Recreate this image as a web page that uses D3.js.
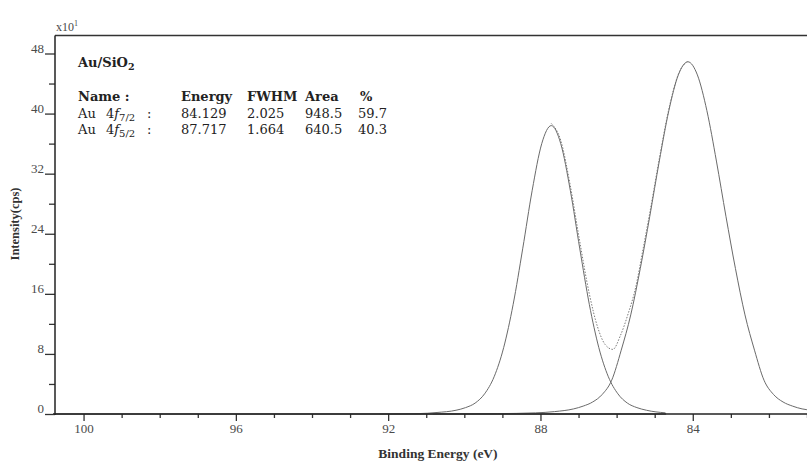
<!DOCTYPE html>
<html>
<head>
<meta charset="utf-8">
<script src="https://cdn.jsdelivr.net/npm/d3@7"></script>
<style>
  html, body { margin: 0; padding: 0; background: #fff; }
  svg { display: block; }
</style>
</head>
<body>
<svg id="chart" width="807" height="463"></svg>
<script>
// ---------------- data ----------------
const xMajorTicks = [100, 96, 92, 88, 84];
const xMinorTicks = [99, 98, 97, 95, 94, 93, 91, 90, 89, 87, 86, 85, 83, 82, 81];
const yMajorTicks = [0, 8, 16, 24, 32, 40, 48];
const yMinorTicks = [4, 12, 20, 28, 36, 44];

const tableHeaders = ["Name :", "Energy", "FWHM", "Area", "%"];
const peakLabels = ["7/2", "5/2"];
const peakEnergies = ["84.129", "87.717"];
const peakFWHM = ["2.025", "1.664"];
const peakArea = ["948.5", "640.5"];
const peakPercent = ["59.7", "40.3"];

// Au 4f7/2 component
const f72Energy = [90.829, 90.129, 89.129, 88.129, 87.629, 87.129, 86.879, 86.629, 86.379, 86.129,
  85.879, 85.629, 85.379, 85.129, 84.879, 84.629, 84.379, 84.129, 83.879, 83.629, 83.379, 83.129,
  82.879, 82.629, 82.379, 82.129, 81.879, 81.629, 81.379, 81.129, 80.879];
const f72Intensity = [0, 0.02, 0.05, 0.15, 0.32, 0.68, 1.05, 1.6, 2.6, 4.5,
  8.5, 13.2, 19.36, 26.33, 33.68, 40.38, 45.15, 46.9, 45.15, 40.38, 33.68, 26.33,
  19.36, 13.2, 8.5, 4.5, 2.6, 1.6, 1.05, 0.68, 0.5];

// Au 4f5/2 component
const f52Energy = [92.217, 91.217, 90.717, 90.217, 89.967, 89.717, 89.467, 89.217, 88.967, 88.717,
  88.467, 88.217, 87.967, 87.717, 87.467, 87.217, 86.967, 86.717, 86.467, 86.217, 85.967, 85.717,
  85.467, 85.217, 84.717];
const f52Intensity = [0, 0.05, 0.2, 0.5, 0.85, 1.45, 2.69, 4.96, 8.83, 14.6,
  21.99, 29.79, 35.99, 38.4, 35.99, 29.79, 21.99, 14.6, 8.83, 4.96, 2.69, 1.45,
  0.85, 0.5, 0.15];

// Envelope (dotted) between the two peaks
const envEnergy = [87.717, 87.467, 87.217, 86.967, 86.717, 86.5, 86.3, 86.1, 85.9, 85.7, 85.5,
  85.3, 85.129, 84.879, 84.629, 84.379, 84.129];
const envIntensity = [38.69, 36.42, 30.41, 22.91, 16.0, 11.58, 9.24, 8.6, 10.45, 13.31, 16.85,
  22.11, 26.78, 33.98, 40.58, 45.25, 46.95];

// Background
const bgEnergy = [100.75, 84.7];
const bgIntensity = [0, 0];

// ---------------- drawing ----------------
(function () {
const svg = d3.select("#chart");
const pLeft = 55, pRight = 807, pTop = 35.5, pBottom = 414;

const x = d3.scaleLinear().domain([100.75, 81]).range([pLeft, pRight]);
const y = d3.scaleLinear().domain([0, 48]).range([pBottom, 53.5]);

const serif = "'Liberation Serif', 'Times New Roman', serif";
const texFont = "'DejaVu Serif', serif";
const labelColor = "#4a4a4a";

svg.append("defs").append("clipPath").attr("id", "clip")
  .append("rect").attr("x", pLeft).attr("y", pTop).attr("width", pRight - pLeft).attr("height", pBottom - pTop + 1);

const plot = svg.append("g").attr("clip-path", "url(#clip)");

function series(ex, iy) { return ex.map((e, i) => ({ e, v: iy[i] })); }
const line = d3.line().x(d => x(d.e)).y(d => y(d.v)).curve(d3.curveMonotoneX);

plot.append("path").datum(series(bgEnergy, bgIntensity))
  .attr("d", line).attr("fill", "none").attr("stroke", "#8a8a8a").attr("stroke-width", 2);

plot.append("path").datum(series(f52Energy, f52Intensity))
  .attr("d", line).attr("fill", "none").attr("stroke", "#6a6a6a").attr("stroke-width", 1);
plot.append("path").datum(series(f72Energy, f72Intensity))
  .attr("d", line).attr("fill", "none").attr("stroke", "#6a6a6a").attr("stroke-width", 1);
plot.append("path").datum(series(envEnergy, envIntensity))
  .attr("d", line).attr("fill", "none").attr("stroke", "#7a7a7a").attr("stroke-width", 1)
  .attr("stroke-dasharray", "1.5,1.5");

// Axes frame
svg.append("line").attr("x1", pLeft).attr("x2", pRight).attr("y1", pTop).attr("y2", pTop)
  .attr("stroke", "#333").attr("stroke-width", 1.5);

// X axis
const xAxisMajor = d3.axisBottom(x).tickValues(xMajorTicks).tickSize(7).tickFormat(d3.format("d"));
const gx = svg.append("g").attr("transform", `translate(0,${pBottom})`).call(xAxisMajor);
gx.select(".domain").remove();
gx.selectAll(".tick line").attr("stroke", "#333").attr("stroke-width", 1.3);
gx.selectAll(".tick text").style("font-family", serif).style("font-size", "13px")
  .attr("fill", labelColor).attr("y", 10).attr("dy", "0.71em");

const xAxisMinor = d3.axisBottom(x).tickValues(xMinorTicks).tickSize(4).tickFormat("");
const gxm = svg.append("g").attr("transform", `translate(0,${pBottom})`).call(xAxisMinor);
gxm.select(".domain").remove();
gxm.selectAll(".tick line").attr("stroke", "#333").attr("stroke-width", 1.3);

svg.append("line").attr("x1", pLeft - 2).attr("x2", pRight).attr("y1", pBottom).attr("y2", pBottom)
  .attr("stroke", "#222").attr("stroke-width", 1.5);

// Y axis
const yAxisMajor = d3.axisLeft(y).tickValues(yMajorTicks).tickSize(10).tickFormat(d3.format("d"));
const gy = svg.append("g").attr("transform", `translate(${pLeft},0)`).call(yAxisMajor);
gy.select(".domain").remove();
gy.selectAll(".tick line").attr("stroke", "#333").attr("stroke-width", 1.3);
gy.selectAll(".tick text").style("font-family", serif).style("font-size", "13px")
  .attr("fill", labelColor).attr("x", -11).attr("dy", "-0.1em");

const yAxisMinor = d3.axisLeft(y).tickValues(yMinorTicks).tickSize(6).tickFormat("");
const gym = svg.append("g").attr("transform", `translate(${pLeft},0)`).call(yAxisMinor);
gym.select(".domain").remove();
gym.selectAll(".tick line").attr("stroke", "#333").attr("stroke-width", 1.3);

svg.append("line").attr("x1", pLeft).attr("x2", pLeft).attr("y1", pTop).attr("y2", pBottom + 1)
  .attr("stroke", "#222").attr("stroke-width", 1.5);

// Multiplier
const mult = svg.append("text").attr("x", 56).attr("y", 31)
  .style("font-family", serif).style("font-size", "12px").attr("fill", labelColor);
mult.append("tspan").text("x10");
mult.append("tspan").style("font-size", "8px").attr("dy", -5).text("1");

// Axis titles
svg.append("text").attr("x", 438).attr("y", 458).attr("text-anchor", "middle")
  .style("font-family", serif).attr("font-weight", "bold").style("font-size", "13.5px")
  .attr("fill", "#333").text("Binding Energy (eV)");

svg.append("text").attr("transform", "translate(19,224) rotate(-90)").attr("text-anchor", "middle")
  .style("font-family", serif).attr("font-weight", "bold").style("font-size", "12.5px")
  .attr("fill", "#333").text("Intensity(cps)");

// Annotation table
const ann = svg.append("g").style("font-family", texFont).style("font-size", "13px").attr("fill", "#222");
const t1 = ann.append("text").attr("x", 78).attr("y", 67).attr("font-weight", "bold");
t1.append("tspan").text("Au/SiO");
t1.append("tspan").style("font-size", "9.5px").attr("dy", 3).text("2");

const colX = [78, 181, 247, 305, 360];
tableHeaders.forEach((h, i) => {
  ann.append("text").attr("x", colX[i]).attr("y", 101).attr("font-weight", "bold").text(h);
});
const rowY = [117.5, 133.5];
const valX = [181, 247, 305, 358];
peakLabels.forEach((sub, r) => {
  const t = ann.append("text").attr("x", 78).attr("y", rowY[r]);
  t.append("tspan").text("Au");
  t.append("tspan").attr("x", 106).text("4");
  t.append("tspan").attr("font-style", "italic").text("f");
  t.append("tspan").style("font-size", "10px").attr("dy", 3).text(sub);
  t.append("tspan").attr("x", 147).attr("dy", -3).text(":");
  [peakEnergies[r], peakFWHM[r], peakArea[r], peakPercent[r]].forEach((v, c) => {
    ann.append("text").attr("x", valX[c]).attr("y", rowY[r]).text(v);
  });
});
})();
</script>
</body>
</html>
